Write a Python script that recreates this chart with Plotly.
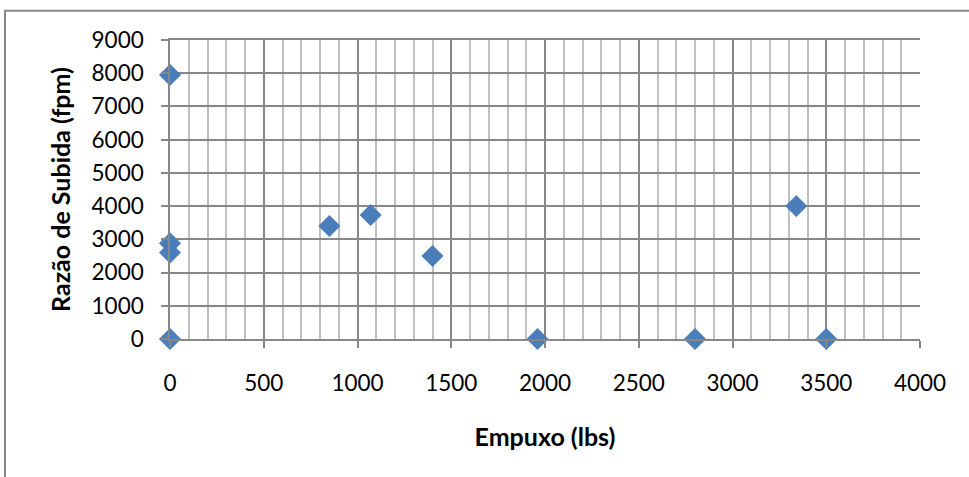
import plotly.graph_objects as go

# Thrust vs. rate of climb samples
empuxo_lbs = [0, 0, 0, 0, 850, 1070, 1400, 1960, 2800, 3340, 3500]
razao_subida_fpm = [7950, 2880, 2600, 0, 3400, 3730, 2500, 0, 0, 4000, 0]

x_ticks = [0, 500, 1000, 1500, 2000, 2500, 3000, 3500, 4000]
y_ticks = [0, 1000, 2000, 3000, 4000, 5000, 6000, 7000, 8000, 9000]

MAJOR = "#878787"
MINOR = "#c0c0c0"
FONT = "Lato"
TICK_SIZE = 22.5
TITLE_SIZE = 25

fig = go.Figure(
    go.Scatter(
        x=empuxo_lbs,
        y=razao_subida_fpm,
        mode="markers",
        marker=dict(symbol="diamond", size=16.5, color="#4a7ebb",
                    line=dict(width=0.5, color="#3f6fa8")),
        cliponaxis=False,
        showlegend=False,
    )
)

fig.update_layout(
    width=969,
    height=477,
    margin=dict(l=170, r=49, t=39.5, b=138),
    paper_bgcolor="white",
    plot_bgcolor="white",
    font=dict(family=FONT, size=TICK_SIZE, color="black"),
    xaxis=dict(
        range=[0, 4000],
        tickvals=x_ticks,
        ticktext=[str(v) for v in x_ticks],
        showgrid=True,
        gridcolor=MAJOR,
        gridwidth=1.5,
        minor=dict(dtick=100, showgrid=True, gridcolor=MINOR, gridwidth=1.5),
        ticks="outside",
        ticklen=7,
        tickcolor=MAJOR,
        tickwidth=1.5,
        ticklabelstandoff=16,
        zeroline=False,
        showline=True,
        linecolor=MAJOR,
        linewidth=1.5,
        mirror=True,
        title=dict(text="<b>Empuxo (lbs)</b>", standoff=34,
                   font=dict(family=FONT, size=TITLE_SIZE)),
    ),
    yaxis=dict(
        range=[0, 9000],
        tickvals=y_ticks,
        ticktext=[str(v) for v in y_ticks],
        showgrid=True,
        gridcolor=MAJOR,
        gridwidth=1.5,
        ticks="outside",
        ticklen=7,
        tickcolor=MAJOR,
        tickwidth=1.5,
        ticklabelstandoff=13,
        zeroline=False,
        showline=True,
        linecolor=MAJOR,
        linewidth=1.5,
        title=dict(text="<b>Razão de Subida (fpm)</b>", standoff=14,
                   font=dict(family=FONT, size=TITLE_SIZE)),
    ),
    shapes=[
        dict(type="rect", xref="paper", yref="paper",
             x0=-0.22, x1=1.2, y0=-0.6, y1=1.098,
             line=dict(color=MAJOR, width=2), fillcolor="rgba(0,0,0,0)",
             layer="below"),
    ],
)

fig.write_html("out.html")
